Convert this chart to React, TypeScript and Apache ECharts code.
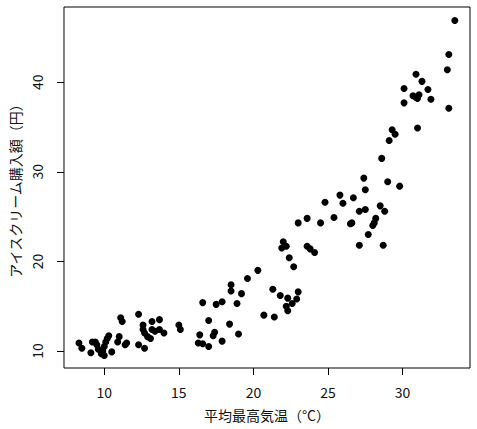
import * as echarts from "echarts";
import { useEffect, useRef } from "react";

// 平均最高気温 (°C)
const temps = [
  8.3, 8.5, 9.1, 9.2, 9.4, 9.5, 9.6, 9.8, 9.9, 10.0, 10.0, 10.1, 10.2, 10.3, 10.5,
  10.9, 11.0, 11.1, 11.2, 11.4, 11.5, 12.3, 12.3, 12.7, 12.6, 12.6, 12.7, 12.9,
  13.1, 13.2, 13.2, 13.4, 13.7, 13.7, 14.0, 15.0, 15.1,
  16.6, 17.5, 17.9, 18.9, 17.0, 18.4, 16.4, 16.6, 16.3, 17.0, 17.3, 17.4, 17.9,
  19.0, 18.5, 18.5, 19.2, 19.6, 20.3, 20.7, 21.4, 21.3, 21.8, 22.3, 22.2, 22.3,
  22.6, 22.9, 23.0, 22.0, 21.9, 22.2, 22.4, 22.7, 23.6, 23.8, 24.1, 23.0, 23.6, 24.5,
  33.5, 33.1, 33.0, 33.1, 30.9, 31.3, 30.1, 31.7, 30.7, 30.9, 31.0, 31.1, 31.9,
  30.1, 31.0, 29.3, 29.5, 29.1, 28.6, 27.4, 27.5, 29.0, 29.8, 25.8, 26.7, 24.8,
  26.0, 25.4, 27.1, 27.5, 28.5, 28.8, 26.6, 26.5, 28.2, 28.1, 28.0, 27.7, 27.1, 28.7,
];

// アイスクリーム購入額 (円)
const purchases = [
  10.9, 10.3, 9.8, 11.0, 11.0, 10.7, 10.2, 9.7, 10.0, 10.5, 9.5, 11.0, 11.4, 11.7, 9.9,
  11.0, 11.6, 13.7, 13.3, 10.7, 10.9, 14.1, 10.7, 10.3, 12.9, 12.4, 12.0, 11.6,
  11.4, 13.3, 12.4, 12.2, 13.5, 12.4, 12.0, 12.9, 12.4,
  15.4, 15.2, 15.5, 15.3, 13.4, 13.0, 11.8, 10.8, 10.9, 10.5, 11.7, 12.1, 11.1,
  11.9, 16.7, 17.4, 16.4, 18.1, 19.0, 14.0, 13.8, 16.9, 16.2, 15.9, 15.0, 14.5,
  15.3, 15.8, 16.6, 22.2, 21.5, 21.7, 20.4, 19.4, 21.7, 21.4, 21.0, 24.3, 24.8, 24.3,
  46.9, 43.1, 41.4, 37.1, 40.9, 40.1, 39.3, 39.2, 38.5, 38.3, 38.2, 38.6, 38.1,
  37.7, 34.9, 34.7, 34.2, 33.5, 31.5, 29.3, 28.0, 28.9, 28.4, 27.4, 27.1, 26.6,
  26.5, 24.9, 25.6, 25.8, 26.2, 25.6, 24.3, 24.2, 24.8, 24.3, 24.0, 23.0, 21.8, 21.8,
];

const xTicks = [10, 15, 20, 25, 30];
const yTicks = [10, 20, 30, 40];

const FONT = "'Noto Sans CJK JP', 'Noto Sans', sans-serif";

const App = () => {
  const chartRef = useRef<HTMLDivElement>(null);

  useEffect(() => {
    const chart = echarts.init(chartRef.current, null, { renderer: "svg" });

    const points = temps.map((t, i) => [t, purchases[i]]);

    chart.setOption({
      animation: false,
      backgroundColor: "#ffffff",
      grid: {
        left: 60,
        right: 7,
        top: 7,
        bottom: 61,
        show: true,
        borderColor: "#000",
        borderWidth: 1,
        backgroundColor: "transparent",
      },
      xAxis: {
        type: "value",
        min: 7.3,
        max: 34.52,
        name: "平均最高気温（°C）",
        nameLocation: "middle",
        nameGap: 40,
        nameTextStyle: { fontFamily: FONT, fontSize: 14, color: "#111" },
        axisLine: { show: false },
        axisTick: {
          show: true,
          inside: false,
          length: 7,
          customValues: xTicks,
          lineStyle: { color: "#000" },
        },
        axisLabel: {
          customValues: xTicks,
          margin: 17,
          fontFamily: FONT,
          fontSize: 14,
          color: "#111",
        },
        splitLine: { show: false },
      },
      yAxis: {
        type: "value",
        min: 8.1,
        max: 48.4,
        name: "アイスクリーム購入額（円）",
        nameLocation: "middle",
        nameRotate: 90,
        nameGap: 42,
        nameTextStyle: { fontFamily: FONT, fontSize: 14, color: "#111" },
        axisLine: { show: false },
        axisTick: {
          show: true,
          inside: false,
          length: 7,
          customValues: yTicks,
          lineStyle: { color: "#000" },
        },
        axisLabel: {
          customValues: yTicks,
          rotate: 90,
          margin: 20,
          fontFamily: FONT,
          fontSize: 14,
          color: "#111",
        },
        splitLine: { show: false },
      },
      series: [
        {
          type: "scatter",
          data: points,
          symbol: "circle",
          symbolSize: 7,
          itemStyle: { color: "#000", opacity: 1 },
        },
      ],
    });

    return () => {
      chart.dispose();
    };
  }, []);

  return (
    <div
      ref={chartRef}
      style={{ position: "fixed", left: 0, top: 0, width: "477px", height: "429px" }}
    />
  );
};

export default App;
